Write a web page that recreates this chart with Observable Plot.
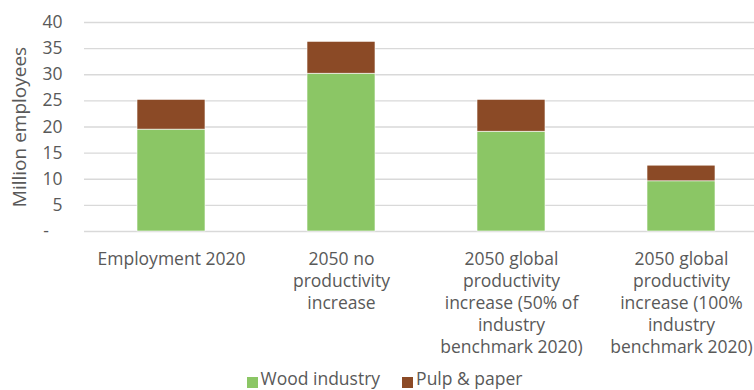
<!DOCTYPE html>
<html><head><meta charset="utf-8">
<script src="https://cdn.jsdelivr.net/npm/d3@7"></script>
<script src="https://cdn.jsdelivr.net/npm/@observablehq/plot@0.6"></script>
<style>
html,body{margin:0;padding:0;overflow:hidden;background:#fff;}
#legend{display:flex;justify-content:center;padding-left:15px;margin-top:-3px;font-family:"Open Sans";font-size:17.5px;line-height:23px;color:#595959;height:23px;white-space:nowrap}
.item{display:flex;align-items:flex-start;margin:0 11px}
.sw{width:11px;height:11px;margin-top:10px;margin-right:3px}
</style></head><body><div id="chart"></div><div id="legend"></div>
<script>
const categories = [
  "Employment 2020",
  "2050 no\nproductivity\nincrease",
  "2050 global\nproductivity\nincrease (50% of\nindustry\nbenchmark 2020)",
  "2050 global\nproductivity\nincrease (100%\nindustry\nbenchmark 2020)"
];
const seriesNames = ["Wood industry", "Pulp & paper"];
const woodIndustry = [19.5, 30.2, 19.1, 9.6];
const pulpPaper = [5.7, 6.1, 6.1, 3.0];
const yTicks = [0, 5, 10, 15, 20, 25, 30, 35, 40];
const colors = ["#8BC665", "#8B4A26"];
const yLabel = "Million employees";

const data = [];
categories.forEach((c, i) => {
  data.push({category: c, series: seriesNames[0], value: woodIndustry[i]});
  data.push({category: c, series: seriesNames[1], value: pulpPaper[i]});
});

const chart = Plot.plot({
  width: 754,
  height: 370,
  marginLeft: 84,
  marginRight: -13.5,
  marginTop: 22,
  marginBottom: 139,
  style: {fontFamily: "Open Sans", fontSize: "17.5px", color: "#595959", background: "white", overflow: "visible"},
  x: {domain: categories, paddingInner: 0.6, paddingOuter: 0.3},
  y: {domain: [0, 40]},
  color: {domain: seriesNames, range: colors},
  marks: [
    Plot.gridY(yTicks, {stroke: "#d9d9d9", strokeOpacity: 1, strokeWidth: 1.3}),
    Plot.barY(data, {x: "category", y: "value", fill: "series", stroke: "white", strokeWidth: 0.6}),
    Plot.axisY(yTicks, {tickSize: 0, tickPadding: 22, fontSize: 17.5, tickFormat: d => d === 0 ? "-\u00a0\u00a0\u00a0" : String(d), label: null}),
    Plot.axisY([], {tickSize: 0, fontSize: 19, label: yLabel, labelAnchor: "center", labelOffset: 72, labelArrow: "none"}),
    Plot.axisX({tickSize: 0, tickPadding: 17.6, fontSize: 17.5, lineHeight: 1.257, label: null})
  ]
});
document.getElementById("chart").appendChild(chart);

const legend = document.getElementById("legend");
seriesNames.forEach((s, i) => {
  const item = document.createElement("div");
  item.className = "item";
  const sw = document.createElement("div");
  sw.className = "sw";
  sw.style.background = colors[i];
  const t = document.createElement("span");
  t.textContent = s;
  item.appendChild(sw);
  item.appendChild(t);
  legend.appendChild(item);
});
</script></body></html>
